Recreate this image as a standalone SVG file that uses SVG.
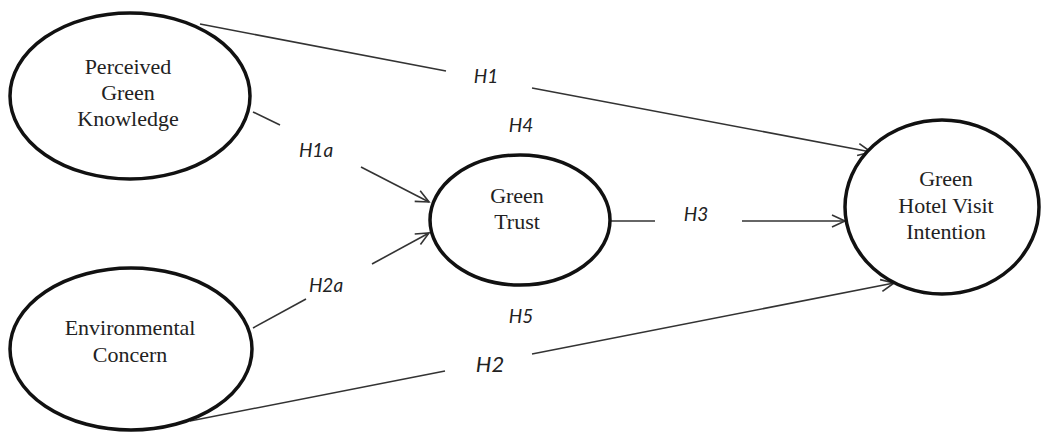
<svg xmlns="http://www.w3.org/2000/svg" width="1044" height="432" viewBox="0 0 1044 432">
  <style>
    .node ellipse { fill: #ffffff; stroke: #111111; stroke-width: 3.5; }
    .node text { font-family: "Liberation Serif", "Times New Roman", serif; font-size: 22px; fill: #222222; text-anchor: middle; }
    .edge { fill: none; stroke: #333333; stroke-width: 1.6; }
    .lbl { font-family: Lato, "Liberation Sans", Arial, sans-serif; font-style: italic; font-size: 19px; fill: #222222; text-anchor: middle; }
  </style>
  <defs>
    <marker id="arrow" markerUnits="userSpaceOnUse" markerWidth="16" markerHeight="16" viewBox="-14 -8 16 16" refX="0" refY="0" orient="auto">
      <path d="M -13 -6 L 0 0 L -13 6" fill="none" stroke="#333333" stroke-width="1.6"/>
    </marker>
  </defs>
  <rect width="1044" height="432" fill="#ffffff"/>

  <!-- connectors, each split around its hypothesis label -->
  <g id="connectors">
    <!-- H1: knowledge to visit intention -->
    <line class="edge" x1="200" y1="24" x2="446" y2="71"/>
    <line class="edge" x1="532" y1="88" x2="871" y2="152" marker-end="url(#arrow)"/>
    <!-- H1a: knowledge to trust -->
    <line class="edge" x1="253" y1="112" x2="280" y2="125"/>
    <line class="edge" x1="361" y1="167" x2="429" y2="202" marker-end="url(#arrow)"/>
    <!-- H2a: concern to trust -->
    <line class="edge" x1="253" y1="328" x2="306" y2="299"/>
    <line class="edge" x1="372" y1="264" x2="429" y2="233" marker-end="url(#arrow)"/>
    <!-- H3: trust to visit intention -->
    <line class="edge" x1="611" y1="221" x2="655" y2="221"/>
    <line class="edge" x1="742" y1="221" x2="845" y2="221" marker-end="url(#arrow)"/>
    <!-- H2: concern to visit intention -->
    <line class="edge" x1="190" y1="421" x2="445" y2="371"/>
    <line class="edge" x1="532" y1="354" x2="894" y2="283" marker-end="url(#arrow)"/>

    <text class="lbl" x="486" y="83">H1</text>
    <text class="lbl" x="316" y="157">H1a</text>
    <text class="lbl" x="521" y="132">H4</text>
    <text class="lbl" x="326" y="292">H2a</text>
    <text class="lbl" x="696" y="221">H3</text>
    <text class="lbl" x="521" y="323">H5</text>
    <text class="lbl" x="490" y="372" style="font-size:22px">H2</text>
  </g>

  <g id="perceived-green-knowledge" class="node">
    <ellipse cx="130" cy="96" rx="120" ry="83"/>
    <text x="128" y="74">Perceived</text>
    <text x="128" y="100">Green</text>
    <text x="128" y="126">Knowledge</text>
  </g>

  <g id="environmental-concern" class="node">
    <ellipse cx="131" cy="349" rx="121" ry="81"/>
    <text x="130" y="335">Environmental</text>
    <text x="130" y="362">Concern</text>
  </g>

  <g id="green-trust" class="node">
    <ellipse cx="520" cy="220" rx="90" ry="65"/>
    <text x="517" y="203">Green</text>
    <text x="517" y="229">Trust</text>
  </g>

  <g id="green-hotel-visit-intention" class="node">
    <ellipse cx="942" cy="207" rx="97" ry="87"/>
    <text x="946" y="186">Green</text>
    <text x="946" y="213">Hotel Visit</text>
    <text x="946" y="239">Intention</text>
  </g>
</svg>
